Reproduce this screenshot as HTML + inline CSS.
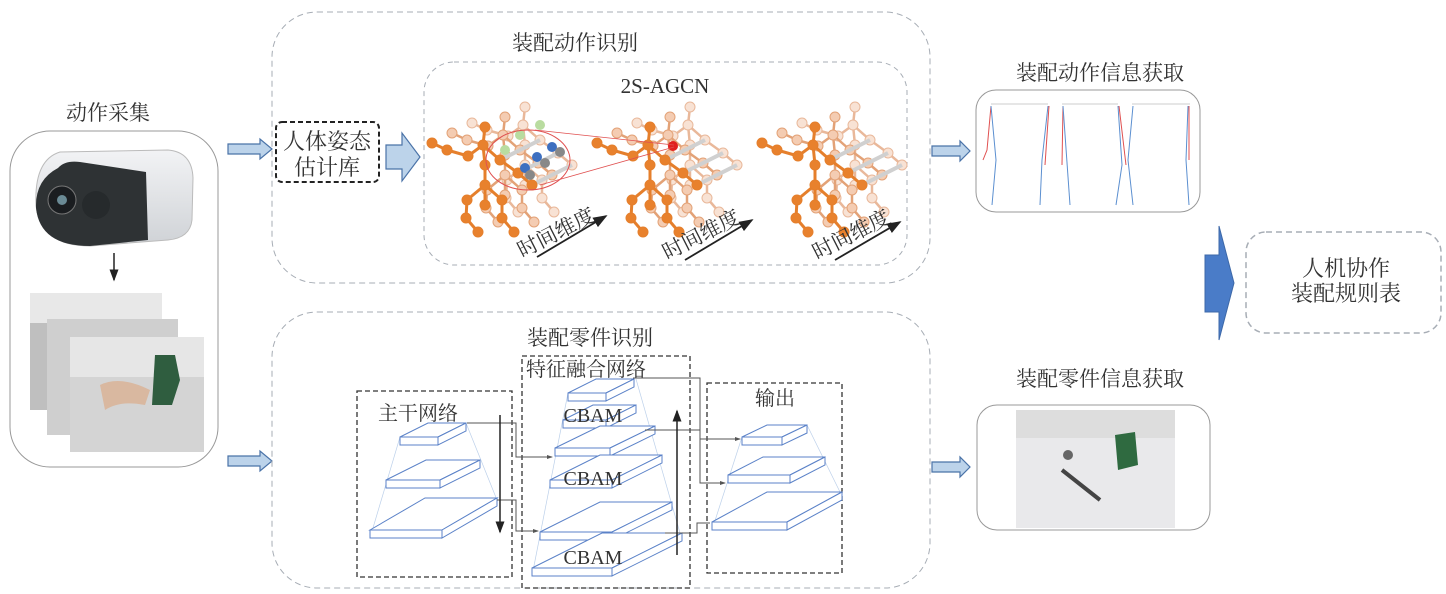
<!DOCTYPE html>
<html><head><meta charset="utf-8"><style>
html,body{margin:0;padding:0;background:#fff}
svg{display:block}
text{font-family:"Liberation Serif","Noto Serif CJK SC","Noto Sans CJK SC",serif;fill:#333}
</style></head><body>
<svg id="s" width="1446" height="594" viewBox="0 0 1446 594" xmlns="http://www.w3.org/2000/svg">
<defs>
<marker id="ah" markerWidth="8" markerHeight="8" refX="7" refY="4" orient="auto"><path d="M0,1 L8,4 L0,7z" fill="#222"/></marker>
<marker id="ahs" markerWidth="6" markerHeight="6" refX="5" refY="3" orient="auto"><path d="M0,1 L6,3 L0,5z" fill="#555"/></marker>
<linearGradient id="sil" x1="0" y1="0" x2="0" y2="1"><stop offset="0" stop-color="#f2f3f5"/><stop offset="1" stop-color="#cfd2d6"/></linearGradient>
</defs>
<!-- left -->
<text x="108" y="120" font-size="21" text-anchor="middle">动作采集</text>
<rect x="10" y="131" width="208" height="336" rx="40" fill="#fff" stroke="#999" stroke-width="1"/>
<path d="M60,152 L168,150 Q192,152 193,178 L192,220 Q190,238 168,240 L90,246 Q40,246 36,205 Q34,160 60,152z" fill="url(#sil)" stroke="#bbb"/>
<path d="M58,168 Q65,160 80,162 L146,172 L148,240 L90,246 Q40,246 36,208 Q35,180 58,168z" fill="#2e3234"/>
<circle cx="62" cy="200" r="14" fill="#1a1d20" stroke="#777"/><circle cx="62" cy="200" r="5" fill="#6a8a95"/>
<circle cx="96" cy="205" r="14" fill="#262a2c"/>
<line x1="114" y1="253" x2="114" y2="280" stroke="#222" stroke-width="1.5" marker-end="url(#ah)"/>
<rect x="30" y="293" width="132" height="117" fill="#bfbfbf"/>
<rect x="30" y="293" width="132" height="30" fill="#e8e8e8"/>
<rect x="47" y="319" width="131" height="116" fill="#cfcfcf"/>
<rect x="70" y="337" width="134" height="115" fill="#d4d4d4"/>
<rect x="70" y="337" width="134" height="40" fill="#e6e6e6"/>
<path d="M155,355 L175,355 L180,380 L172,405 L152,405z" fill="#2f5d3f"/>
<path d="M100,385 Q120,375 150,390 L145,405 Q120,400 105,410z" fill="#d9b8a0"/>
<!-- blue arrows -->
<g fill="#bcd3ea" stroke="#4a73a8" stroke-width="1.2">
<path d="M228,144 L260,144 L260,139 L272,149 L260,159 L260,154 L228,154z"/>
<path d="M228,456 L260,456 L260,451 L272,461 L260,471 L260,466 L228,466z"/>
<path d="M932,146 L960,146 L960,141 L970,151 L960,161 L960,156 L932,156z"/>
<path d="M932,462 L960,462 L960,457 L970,467 L960,477 L960,472 L932,472z"/>
<path d="M386,145 L402,145 L402,133 L420,157 L402,181 L402,169 L386,169z"/>
</g>
<!-- top box -->
<rect x="272" y="12" width="658" height="271" rx="45" fill="none" stroke="#a7adb5" stroke-dasharray="6,4"/>
<text x="575" y="50" font-size="21" text-anchor="middle">装配动作识别</text>
<rect x="276" y="122" width="103" height="60" rx="6" fill="#fff" stroke="#222" stroke-width="2" stroke-dasharray="5,3"/>
<text x="327" y="149" font-size="22" text-anchor="middle">人体姿态</text>
<text x="327" y="175" font-size="22" text-anchor="middle">估计库</text>
<rect x="424" y="62" width="483" height="203" rx="30" fill="none" stroke="#a7adb5" stroke-dasharray="5,4"/>
<text x="665" y="93" font-size="21" text-anchor="middle">2S-AGCN</text>
<g id="sk"></g>
<ellipse cx="528" cy="160" rx="42" ry="30" fill="none" stroke="#e05050" stroke-width="1"/>
<line x1="535" y1="130" x2="674" y2="145" stroke="#e05050" stroke-width="0.8"/>
<line x1="540" y1="185" x2="674" y2="147" stroke="#e05050" stroke-width="0.8"/>
<g font-size="21">
<text transform="translate(522,258) rotate(-27)">时间维度</text>
<text transform="translate(667,260) rotate(-27)">时间维度</text>
<text transform="translate(817,260) rotate(-27)">时间维度</text>
</g>
<g stroke="#222" stroke-width="1.8">
<line x1="537" y1="257" x2="606" y2="216" marker-end="url(#ah)"/>
<line x1="685" y1="260" x2="752" y2="220" marker-end="url(#ah)"/>
<line x1="835" y1="260" x2="900" y2="222" marker-end="url(#ah)"/>
</g>
<!-- top right -->
<text x="1100" y="80" font-size="21" text-anchor="middle">装配动作信息获取</text>
<rect x="976" y="90" width="224" height="122" rx="20" fill="#fff" stroke="#999"/>
<g fill="none" stroke-width="1">
<path d="M991,104 L1048,104 M1062,104 L1118,104 M1132,104 L1190,104" stroke="#ccc"/>
<path d="M991,106 L987,150 L983,160" stroke="#e05050"/>
<path d="M991,106 L996,160 L992,205" stroke="#5b8fd0"/>
<path d="M1048,106 L1042,160 L1040,205" stroke="#5b8fd0"/>
<path d="M1049,106 L1045,165" stroke="#e05050"/>
<path d="M1063,106 L1062,165" stroke="#e05050"/>
<path d="M1063,106 L1070,205" stroke="#5b8fd0"/>
<path d="M1118,106 L1122,165 L1116,205" stroke="#5b8fd0"/>
<path d="M1119,106 L1126,165" stroke="#e05050"/>
<path d="M1133,106 L1128,160 L1133,205" stroke="#5b8fd0"/>
<path d="M1189,106 L1189,160" stroke="#e05050"/>
<path d="M1188,106 L1186,160 L1189,205" stroke="#5b8fd0"/>
</g>
<path d="M1205,255 L1219,255 L1219,226 L1234,283 L1219,340 L1219,312 L1205,312z" fill="#4a7cc8" stroke="#3d68a8"/>
<rect x="1246" y="232" width="195" height="101" rx="20" fill="none" stroke="#a7adb5" stroke-width="1.5" stroke-dasharray="6,4"/>
<text x="1346" y="276" font-size="22" text-anchor="middle">人机协作</text>
<text x="1346" y="301" font-size="22" text-anchor="middle">装配规则表</text>
<!-- bottom box -->
<rect x="272" y="312" width="658" height="276" rx="45" fill="none" stroke="#a7adb5" stroke-dasharray="6,4"/>
<text x="590" y="345" font-size="21" text-anchor="middle">装配零件识别</text>
<g fill="none" stroke="#333" stroke-width="1.3" stroke-dasharray="5,3">
<rect x="357" y="391" width="155" height="186"/>
<rect x="522" y="356" width="168" height="232"/>
<rect x="707" y="383" width="135" height="190"/>
</g>
<text x="418" y="420" font-size="20" text-anchor="middle">主干网络</text>
<text x="526" y="376" font-size="20">特征融合网络</text>
<text x="775" y="405" font-size="20" text-anchor="middle">输出</text>
<g id="slabs" fill="#fff" stroke="#5b82c8" stroke-width="1"></g>
<g font-size="20">
<text x="593" y="422" text-anchor="middle">CBAM</text>
<text x="593" y="485" text-anchor="middle">CBAM</text>
<text x="593" y="564" text-anchor="middle">CBAM</text>
</g>
<g fill="none" stroke="#555" stroke-width="1">
<path d="M467,423 L516,423 L516,457 L552,457" marker-end="url(#ahs)"/>
<path d="M497,500 L516,500 L516,531 L538,531" marker-end="url(#ahs)"/>
<path d="M633,378 L700,378 L700,439 L740,439" marker-end="url(#ahs)"/>
<path d="M645,430 L700,430 L700,483 L725,483" marker-end="url(#ahs)"/>
<path d="M665,533 L697,533 L697,523 L710,523"/>
</g>
<g stroke="#222" stroke-width="1.5">
<line x1="500" y1="415" x2="500" y2="532" marker-end="url(#ah)"/>
<line x1="677" y1="555" x2="677" y2="411" marker-end="url(#ah)"/>
</g>
<!-- bottom right -->
<text x="1100" y="386" font-size="21" text-anchor="middle">装配零件信息获取</text>
<rect x="977" y="405" width="233" height="125" rx="20" fill="#fff" stroke="#999"/>
<rect x="1016" y="410" width="159" height="118" fill="#e9e9eb"/>
<rect x="1016" y="410" width="159" height="28" fill="#ddd"/>
<path d="M1115,435 L1135,432 L1138,465 L1118,470z" fill="#2f6a40"/>
<path d="M1062,470 L1100,500" stroke="#444" stroke-width="4"/>
<circle cx="1068" cy="455" r="5" fill="#666"/>
</svg>
<script>
(function(){
var N="http://www.w3.org/2000/svg";
function el(p,t,a){var e=document.createElementNS(N,t);for(var k in a)e.setAttribute(k,a[k]);p.appendChild(e);return e;}
var sl=document.getElementById('slabs');
function slab(x1,x2,y,h,dx,dy){
 el(sl,'polygon',{points:[x1,y,x1+dx,y-dy,x2+dx,y-dy,x2,y].join(',')});
 el(sl,'polygon',{points:[x2,y,x2+dx,y-dy,x2+dx,y-dy+h,x2,y+h].join(',')});
 el(sl,'rect',{x:x1,y:y,width:x2-x1,height:h});
}
var g=document.getElementById('slabs');
[[400,437,370,538],[466,423,497,500],[568,393,532,576],[636,379,680,533],[742,437,712,530],[807,425,840,492]].forEach(function(l){el(g,'line',{x1:l[0],y1:l[1],x2:l[2],y2:l[3],stroke:'#bcd0ea','stroke-width':0.7});});
slab(400,438,437,8,28,14);slab(386,440,480,8,40,20);slab(370,442,530,8,55,32);
slab(568,606,393,8,28,14);slab(563,606,420,8,30,15);slab(555,610,448,8,45,22);
slab(550,612,480,8,50,25);slab(540,612,532,8,60,30);slab(532,612,568,8,70,35);
slab(742,782,437,8,25,12);slab(728,790,475,8,35,18);slab(712,787,522,8,55,30);
var sk=document.getElementById('sk');
var pts=[[485,127],[483,145],[485,165],[485,185],[485,205],[468,156],[447,150],[432,143],[500,160],[518,173],[532,185],[467,200],[466,218],[478,232],[502,200],[502,218],[514,232]];
var eds=[[0,1],[1,2],[2,3],[3,4],[1,5],[5,6],[6,7],[1,8],[8,9],[9,10],[3,11],[11,12],[12,13],[3,14],[14,15],[15,16]];
function draw(ox,oy,col,fill,w){
 eds.forEach(function(e){el(sk,'line',{x1:pts[e[0]][0]+ox,y1:pts[e[0]][1]+oy,x2:pts[e[1]][0]+ox,y2:pts[e[1]][1]+oy,stroke:col,'stroke-width':w});});
 pts.forEach(function(p){el(sk,'circle',{cx:p[0]+ox,cy:p[1]+oy,r:5,fill:fill,stroke:col,'stroke-width':1});});
}
[0,165,330].forEach(function(dx){
 draw(dx+40,-20,'#e9b89a','#f8e2d4',2.5);
 draw(dx+20,-10,'#e3a277','#f4ccb2',2.5);
 [8,9,10].forEach(function(i){el(sk,'line',{x1:pts[i][0]+dx,y1:pts[i][1],x2:pts[i][0]+dx+40,y2:pts[i][1]-20,stroke:'#d0d0d0','stroke-width':4});});
 draw(dx,0,'#e57f2c','#e8812d',3);
});
var cs=[[505,150,'#b9dca0'],[520,135,'#b9dca0'],[540,125,'#b9dca0'],[525,168,'#3d6fc0'],[537,157,'#3d6fc0'],[552,147,'#3d6fc0'],[530,175,'#888'],[545,163,'#888'],[560,152,'#888'],[673,146,'#e02020']];
cs.forEach(function(c){el(sk,'circle',{cx:c[0],cy:c[1],r:5,fill:c[2]});});
})();
</script>
</body></html>
